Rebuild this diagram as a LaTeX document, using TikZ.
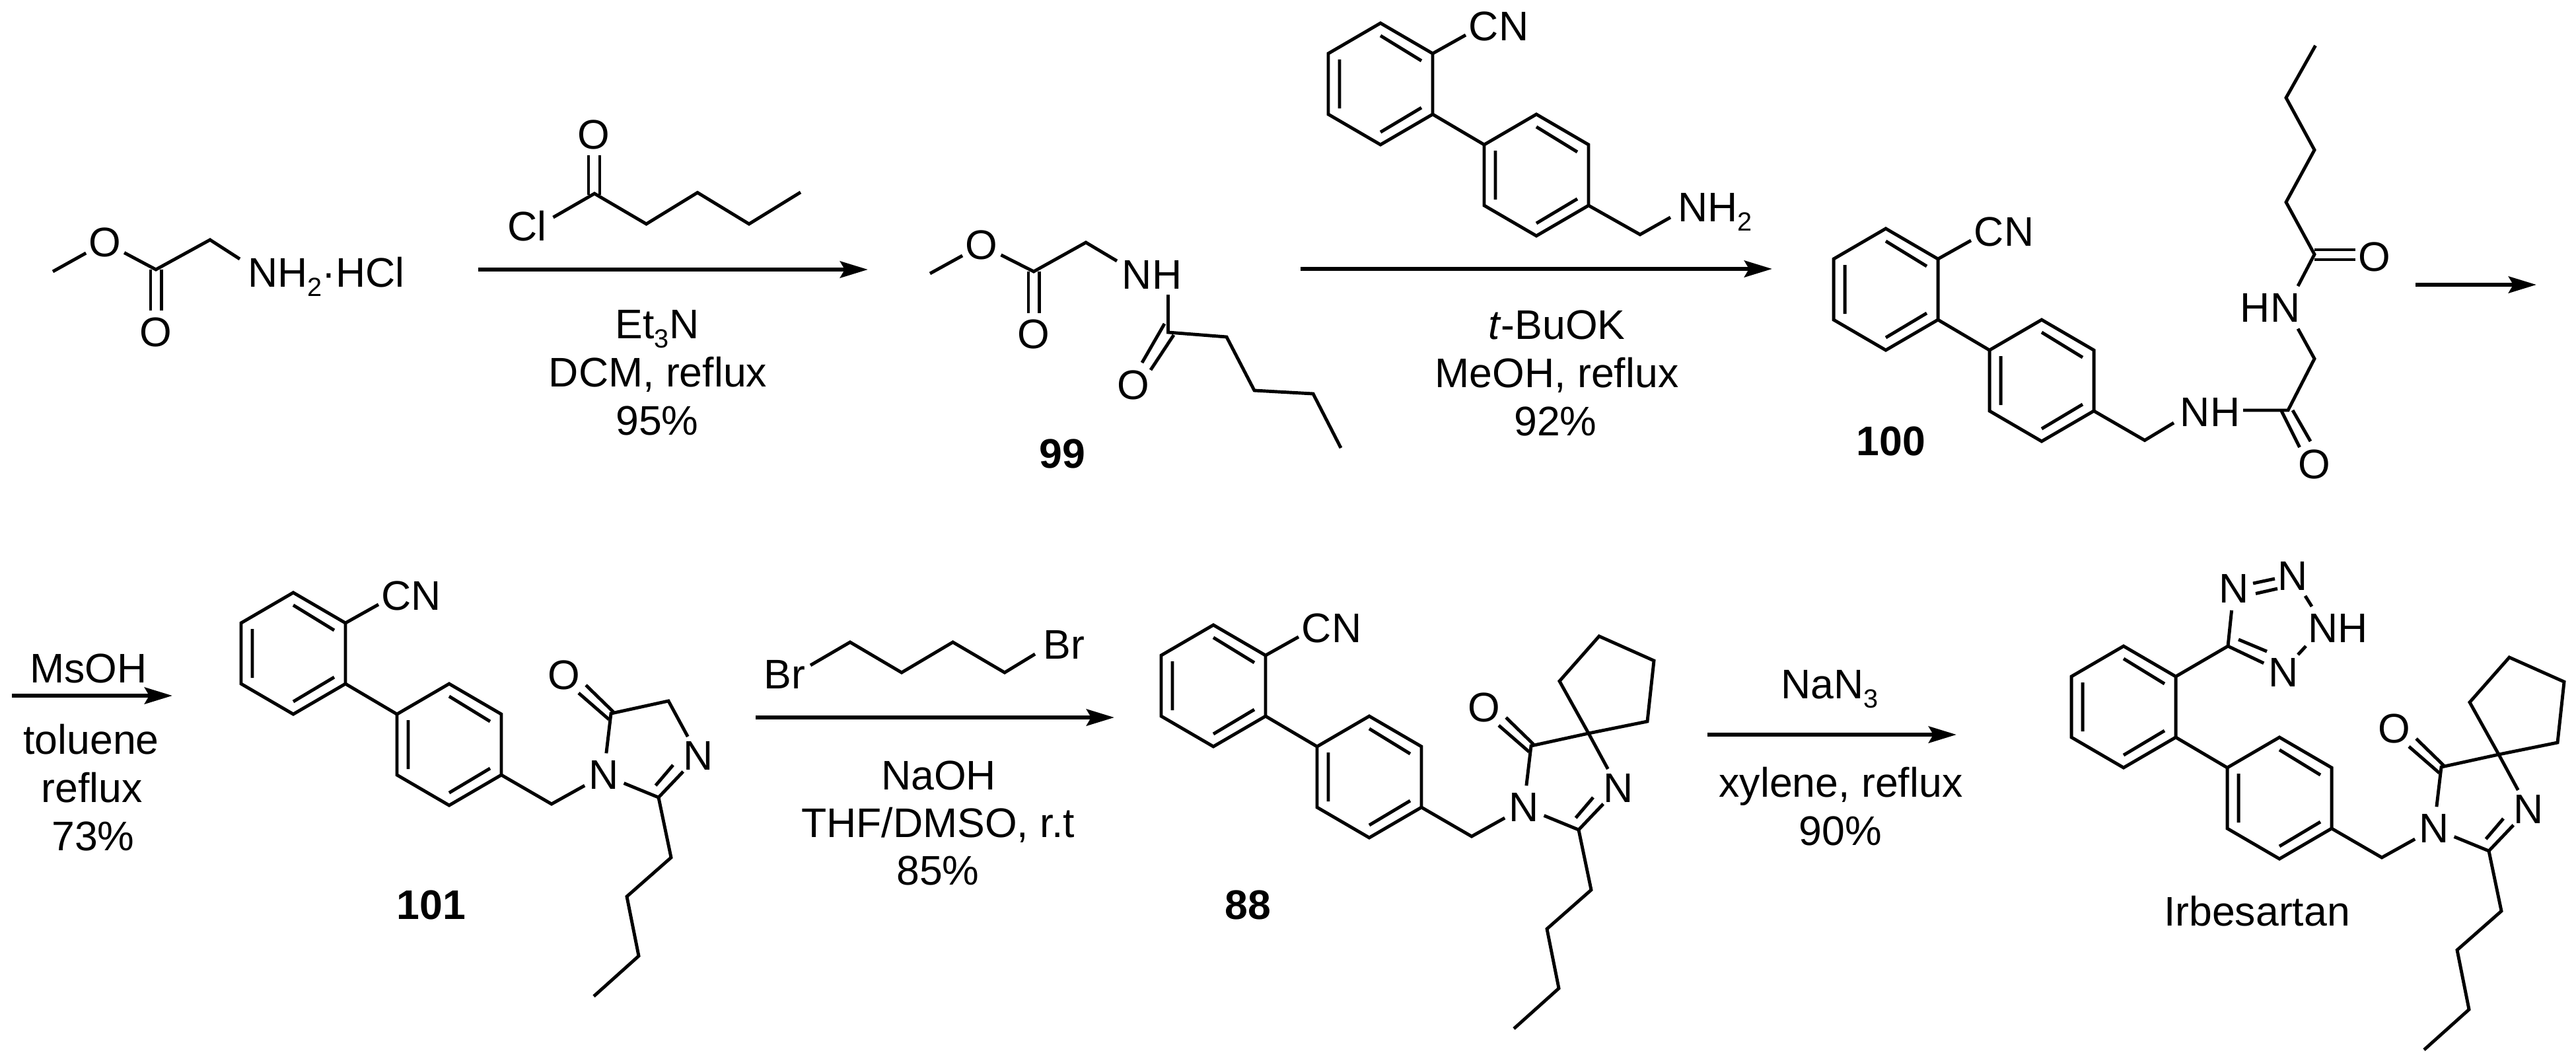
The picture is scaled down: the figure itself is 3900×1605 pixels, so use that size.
\documentclass[tikz,border=0pt]{standalone}
\usepackage{fontspec}
\setmainfont{Liberation Sans}
\usetikzlibrary{arrows.meta}
\newcommand\chemsub[1]{\raisebox{-4.1pt}{\fontsize{11.3pt}{12pt}\selectfont #1}}
\tikzset{
  bond/.style={line width=1.4pt,black,line join=miter,line cap=butt},
  rxnarrow/.style={line width=1.75pt,black,-{Stealth[length=0.42cm,width=0.25cm,inset=0.07cm]}},
  txt/.style={inner sep=0,outer sep=0,font=\fontsize{17.8pt}{21pt}\selectfont},
  cond/.style={txt,anchor=base},
  atom/.style={txt,circle,minimum size=0.66cm},
  label/.style={txt,anchor=center},
  cmpd/.style={txt,anchor=base,font=\fontsize{17.8pt}{21pt}\selectfont\bfseries},
}
\newcommand\biphcode{
  \coordinate (-a) at (0,0);
  \coordinate (-b) at (79,46);
  \coordinate (-c) at (79,138);
  \coordinate (-d) at (0,184);
  \coordinate (-e) at (-79,138);
  \coordinate (-f) at (-79,46);
  \coordinate (-g) at (236,138);
  \coordinate (-h) at (315,184);
  \coordinate (-i) at (315,276);
  \coordinate (-j) at (236,322);
  \coordinate (-k) at (157,276);
  \coordinate (-l) at (157,184);
  \draw[bond] (-a)--(-b)--(-c)--(-d)--(-e)--(-f)--cycle;
  \draw[bond] (-g)--(-h)--(-i)--(-j)--(-k)--(-l)--cycle;
  \draw[bond] (-c)--(-l);
  \draw[bond] (0,19)--(62,57) (62,128)--(0,165) (-62,55)--(-62,129);
  \draw[bond] (236,157)--(298,195) (298,266)--(236,303) (174,193)--(174,267);
}
\newcommand\cncode{
  \node[label] (-cn) at (179,5) {CN};
  \coordinate (-cnb) at (129,18);
  \draw[bond] (-b)--(-cnb);
}
\newcommand\corecode{
  \coordinate (-m) at (391,320);
  \node[atom] (-N1) at (470,276) {N};
  \node[atom] (-N3) at (613,247) {N};
  \node[atom] (-O) at (410,125) {O};
  \coordinate (-co) at (481,183);
  \coordinate (-c4) at (568,164);
  \coordinate (-c2) at (553,310);
  \coordinate (-b1) at (572,401);
  \coordinate (-b2) at (505,460);
  \coordinate (-b3) at (523,550);
  \coordinate (-b4) at (455,611);
  \draw[bond] (-i)--(-m)--(-N1);
  \draw[bond] (-N1)--(-co)--(-c4)--(-N3);
  \draw[bond] (-N1)--(-c2)--(-N3);
  \draw[bond] (548.6,292)--(575,261);
  \draw[bond] (443,140)--(485,181) (432,152)--(478,192);
  \draw[bond] (-c2)--(-b1)--(-b2)--(-b3)--(-b4);
}
\newcommand\spirocode{
  \coordinate (-s1) at (524,85);
  \coordinate (-s2) at (584,17);
  \coordinate (-s3) at (667,54);
  \coordinate (-s4) at (657,146);
  \draw[bond] (-c4)--(-s1)--(-s2)--(-s3)--(-s4)--(-c4);
}
\tikzset{
  pics/biphcn/.style={code={\biphcode\cncode}},
  pics/corecn/.style={code={\biphcode\cncode\corecode}},
  pics/spirocn/.style={code={\biphcode\cncode\corecode\spirocode}},
  pics/spirobare/.style={code={\biphcode\corecode\spirocode}},
}
\begin{document}
\begin{tikzpicture}[x=0.01cm,y=-0.01cm]
\useasboundingbox (0,0) rectangle (3900,1605);

% glycine methyl ester hydrochloride
\coordinate (g1) at (80,411);
\node[atom] (gO1) at (159,367) {O};
\coordinate (g2) at (236,408);
\coordinate (g3) at (318,363);
\coordinate (g3n) at (363,392);
\node[txt,anchor=base west] (gN) at (375,434) {NH\chemsub{2}·HCl};
\node[atom] (gO2) at (236,503) {O};
\draw[bond] (g1)--(gO1)--(g2)--(g3)--(g3n);
\draw[bond] (228,408)--(228,470) (244.6,408)--(244.6,470);

% valeroyl chloride
\node[atom] (vO) at (899,204) {O};
\node[label] (vCl) at (798,342) {Cl};
\coordinate (v0) at (900,293);
\coordinate (vclb) at (837.5,329);
\coordinate (v1) at (978.5,339);
\coordinate (v2) at (1056,291.5);
\coordinate (v3) at (1134,339);
\coordinate (v4) at (1212,291);
\draw[bond] (vclb)--(v0)--(v1)--(v2)--(v3)--(v4);
\draw[bond] (891,235)--(891,295) (908,235)--(908,295);

% step 1
\coordinate (a1s) at (724,408);
\coordinate (a1e) at (1314,408);
\draw[rxnarrow] (a1s)--(a1e);
\node[cond] (c1a) at (995,512) {Et\chemsub{3}N};
\node[cond] (c1b) at (996,585) {DCM, reflux};
\node[cond] (c1c) at (995,658) {95\%};

% 99
\coordinate (p1) at (1408,414);
\node[atom] (pO1) at (1486,371) {O};
\coordinate (p2) at (1565,411);
\coordinate (p3) at (1644,367);
\coordinate (p3n) at (1691,395);
\node[label] (pNH) at (1744,416) {NH};
\node[atom] (pO2) at (1565,506) {O};
\node[atom] (pO3) at (1716,583) {O};
\coordinate (pnb) at (1768.5,446);
\coordinate (p4) at (1768.5,503);
\coordinate (p5) at (1857,510);
\coordinate (p6) at (1899,591);
\coordinate (p7) at (1988,596);
\coordinate (p8) at (2030,678);
\draw[bond] (p1)--(pO1)--(p2)--(p3)--(p3n);
\draw[bond] (1557,411)--(1557,474) (1573.6,411)--(1573.6,474);
\draw[bond] (pnb)--(p4)--(p5)--(p6)--(p7)--(p8);
\draw[bond] (1763,490)--(1729,549) (1777,507)--(1742,560);
\node[cmpd] (n99) at (1608,708) {99};

% step 2
\pic (r2) at (2090,35) {biphcn};
\coordinate (r2m) at (2483,355);
\coordinate (r2nb) at (2529,329);
\node[txt,anchor=base west] (r2N) at (2540,335) {NH\chemsub{2}};
\draw[bond] (r2-i)--(r2m)--(r2nb);
\coordinate (a2s) at (1969,407);
\coordinate (a2e) at (2683,407);
\draw[rxnarrow] (a2s)--(a2e);
\node[cond] (c2a) at (2357,513) {\textit{t}-BuOK};
\node[cond] (c2b) at (2357,586) {MeOH, reflux};
\node[cond] (c2c) at (2355,659) {92\%};

% 100
\pic (m100) at (2855,346) {biphcn};
\coordinate (q1) at (3247,666.5);
\coordinate (q1n) at (3291,640);
\node[label] (qNH) at (3346,624) {NH};
\coordinate (qnb) at (3396,621);
\coordinate (q2) at (3464,621);
\coordinate (q3) at (3504,543);
\coordinate (q3n) at (3479,497.6);
\node[label] (qHN) at (3437,466) {HN};
\coordinate (qhb) at (3479,433);
\coordinate (q4) at (3504,385);
\coordinate (q5) at (3461,306);
\coordinate (q6) at (3504,227);
\coordinate (q7) at (3461,148);
\coordinate (q8) at (3505.5,69);
\node[atom] (qO1) at (3504,703) {O};
\node[atom] (qO2) at (3595,388.5) {O};
\draw[bond] (m100-i)--(q1)--(q1n);
\draw[bond] (qnb)--(q2)--(q3)--(q3n);
\draw[bond] (qhb)--(q4)--(q5)--(q6)--(q7)--(q8);
\draw[bond] (3454,622)--(3481.5,677) (3471,621)--(3498,668);
\draw[bond] (3504,378)--(3566,378) (3504,393)--(3566,393);
\node[cmpd] (n100) at (2863,689) {100};

% step 3
\coordinate (a3s) at (3657,431);
\coordinate (a3e) at (3840,431);
\draw[rxnarrow] (a3s)--(a3e);
\coordinate (a3bs) at (18,1053);
\coordinate (a3be) at (261,1053);
\draw[rxnarrow] (a3bs)--(a3be);
\node[cond] (c3a) at (134,1033) {MsOH};
\node[cond] (c3b) at (138,1141) {toluene};
\node[cond] (c3c) at (139,1214) {reflux};
\node[cond] (c3d) at (141,1287) {73\%};

% 101
\pic (m101) at (444,897) {corecn};
\node[cmpd] (n101) at (653,1391) {101};

% dibromobutane
\node[label] (brL) at (1188,1021) {Br};
\node[label] (brR) at (1611,976) {Br};
\coordinate (d0) at (1227,1007);
\coordinate (d1) at (1287,972);
\coordinate (d2) at (1365,1018);
\coordinate (d3) at (1442.6,972);
\coordinate (d4) at (1521,1018);
\coordinate (d5) at (1567,990);
\draw[bond] (d0)--(d1)--(d2)--(d3)--(d4)--(d5);

% step 4
\coordinate (a4s) at (1144,1086);
\coordinate (a4e) at (1687,1086);
\draw[rxnarrow] (a4s)--(a4e);
\node[cond] (c4a) at (1421,1195) {NaOH};
\node[cond] (c4b) at (1420,1267) {THF/DMSO, r.t};
\node[cond] (c4c) at (1420,1339) {85\%};

% 88
\pic (m88) at (1837,946) {spirocn};
\node[cmpd] (n88) at (1889,1391) {88};

% step 5
\coordinate (a5s) at (2585,1112);
\coordinate (a5e) at (2962,1112);
\draw[rxnarrow] (a5s)--(a5e);
\node[cond] (c5a) at (2770,1057) {NaN\chemsub{3}};
\node[cond] (c5b) at (2787,1206) {xylene, reflux};
\node[cond] (c5c) at (2786,1279) {90\%};

% irbesartan
\pic (irb) at (3215,978) {spirobare};
\coordinate (tc) at (3373,978);
\node[atom] (tN1) at (3382,891) {N};
\node[atom] (tN2) at (3471,872) {N};
\node[label] (tNH) at (3539.5,951) {NH};
\node[atom] (tN4) at (3457,1018) {N};
\coordinate (t2a) at (3490,902);
\coordinate (t2b) at (3500,918);
\coordinate (t3a) at (3491,978);
\coordinate (t3b) at (3479,991);
\draw[bond] (irb-b)--(tc)--(tN1);
\draw[bond] (tc)--(tN4);
\draw[bond] (3389,968)--(3432,986);
\draw[bond] (3411,883)--(3444,876) (3415,898.5)--(3448,891);
\draw[bond] (t2a)--(t2b);
\draw[bond] (t3a)--(t3b);
\node[cond] (nirb) at (3417,1401) {Irbesartan};
\end{tikzpicture}
\end{document}
